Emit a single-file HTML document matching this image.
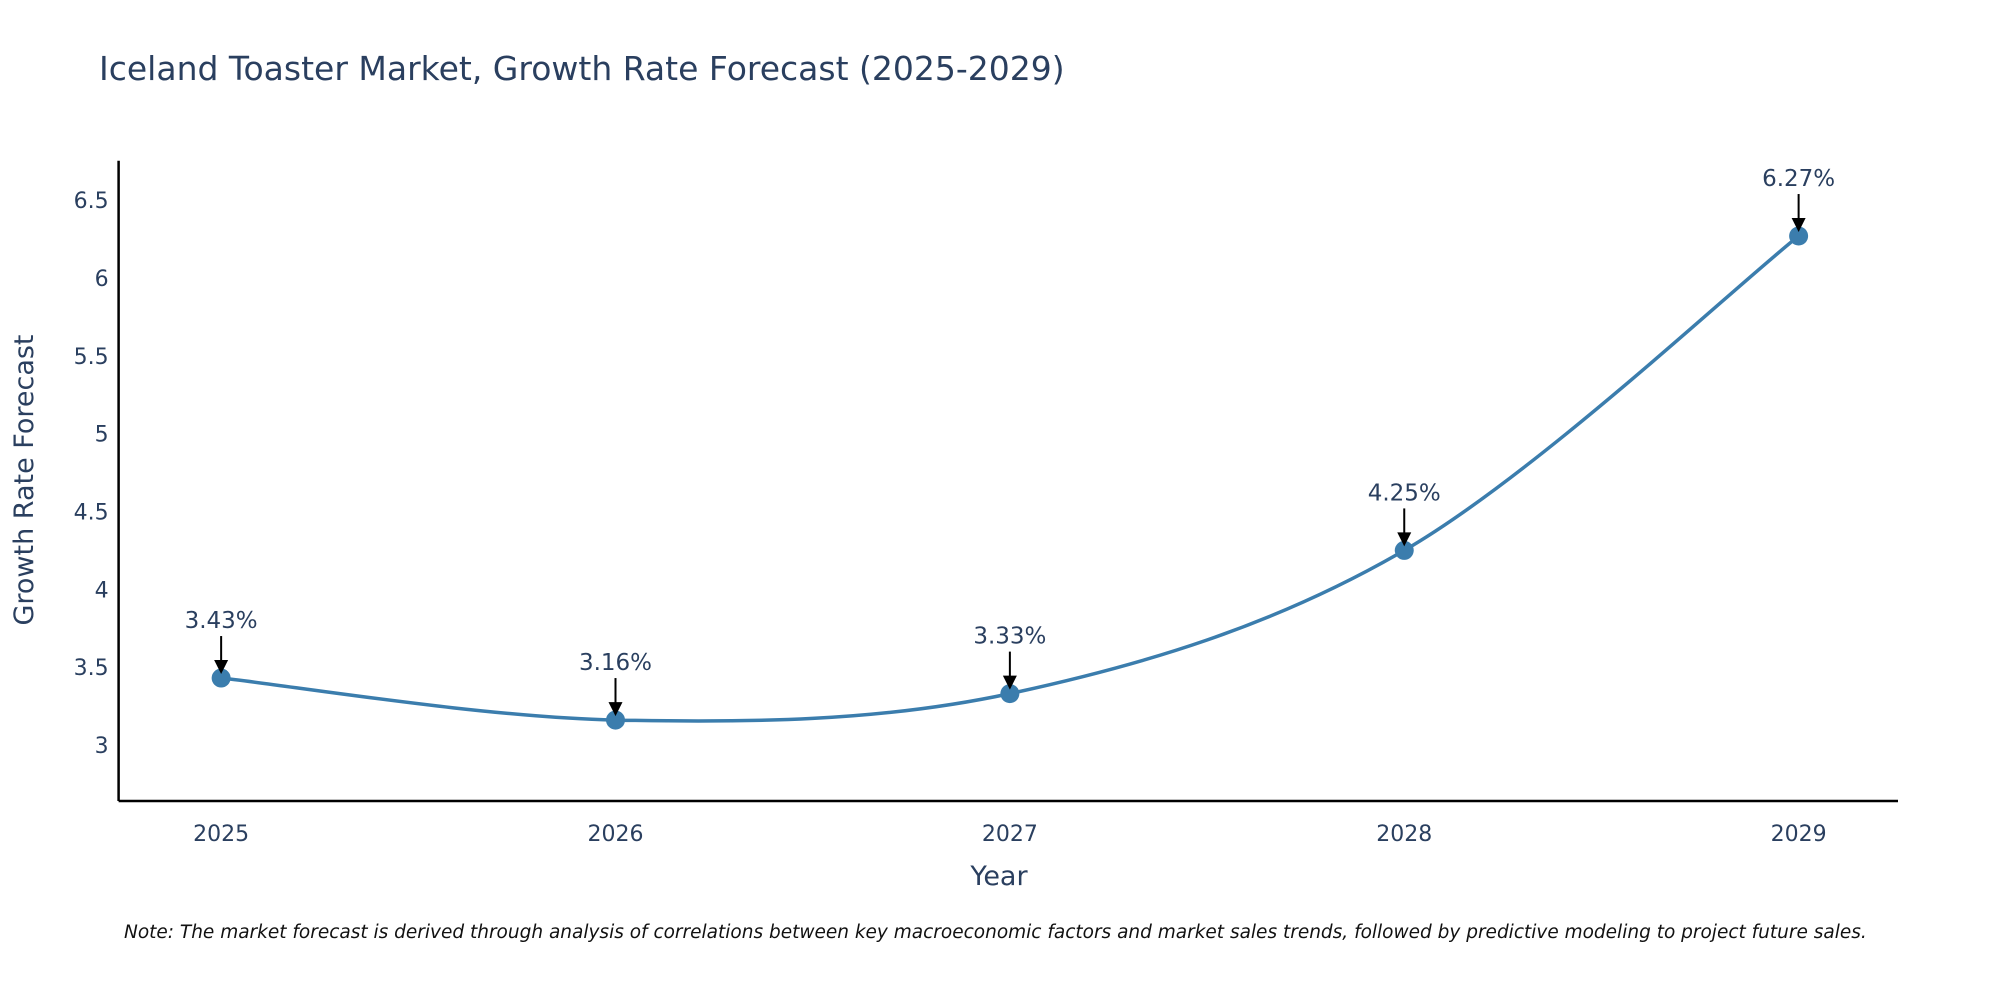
<!DOCTYPE html>
<html><head><meta charset="utf-8"><style>
body{margin:0;background:#fff;}
svg{display:block;font-family:"DejaVu Sans","Liberation Sans",sans-serif;}
</style></head><body>
<svg id="chart" width="2000" height="1000" viewBox="0 0 2000 1000">
<text x="99" y="80" font-size="33" fill="#2a3f5f">Iceland Toaster Market, Growth Rate Forecast (2025-2029)</text>
<g id="plot"></g>
<text x="999" y="885" font-size="27" fill="#2a3f5f" text-anchor="middle">Year</text>
<text transform="translate(33,480) rotate(-90)" font-size="27" fill="#2a3f5f" text-anchor="middle">Growth Rate Forecast</text>
<text x="124" y="938" font-size="18.5" font-style="italic" fill="#111">Note: The market forecast is derived through analysis of correlations between key macroeconomic factors and market sales trends, followed by predictive modeling to project future sales.</text>
</svg>
<script>
const years=[2025,2026,2027,2028,2029];
const values=[3.43,3.16,3.33,4.25,6.27];
const labels=["3.43%","3.16%","3.33%","4.25%","6.27%"];
const yTicks=[3,3.5,4,4.5,5,5.5,6,6.5];
const yTickLabels=["3","3.5","4","4.5","5","5.5","6","6.5"];

const NS="http://www.w3.org/2000/svg";
const L=118.6,R=1898,T=160.7,B=801;
const xMin=2024.74,xMax=2029.252,yMin=2.64,yMax=6.754;
const xs=v=>L+(v-xMin)/(xMax-xMin)*(R-L);
const ys=v=>B-(v-yMin)/(yMax-yMin)*(B-T);
const g=document.getElementById('plot');
function mk(tag,attrs){const e=document.createElementNS(NS,tag);for(const k in attrs)e.setAttribute(k,attrs[k]);g.appendChild(e);return e;}

let ax=mk('line',{x1:L,y1:B,x2:R,y2:B,stroke:'#000','stroke-width':2.5});


let ay=mk('line',{x1:L,y1:T,x2:L,y2:B,stroke:'#000','stroke-width':2.5});



yTicks.forEach((v,i)=>{
 const t=mk('text',{x:L-10,y:ys(v)+8,'font-size':22,fill:'#2a3f5f','text-anchor':'end'});
 t.textContent=yTickLabels[i];
 
 
});
years.forEach(v=>{
 const t=mk('text',{x:xs(v),y:B+40,'font-size':22,fill:'#2a3f5f','text-anchor':'middle'});
 t.textContent=String(v);
 
 
});

const pts=years.map((y,i)=>[xs(y),ys(values[i])]);
let d='M'+pts[0][0]+','+pts[0][1];
const s=1/6;
for(let i=0;i<pts.length-1;i++){
 const p0=pts[Math.max(i-1,0)],p1=pts[i],p2=pts[i+1],p3=pts[Math.min(i+2,pts.length-1)];
 const c1=[p1[0]+(p2[0]-p0[0])*s,p1[1]+(p2[1]-p0[1])*s];
 const c2=[p2[0]-(p3[0]-p1[0])*s,p2[1]-(p3[1]-p1[1])*s];
 d+=' C'+c1+' '+c2+' '+p2;
}
const line=mk('path',{d:d,fill:'none',stroke:'#3b7dad','stroke-width':3.5});



pts.forEach((p,i)=>{
 const c=mk('circle',{cx:p[0],cy:p[1],r:9.5,fill:'#3b7dad'});
 
 
 const a=mk('line',{x1:p[0],y1:p[1]-42,x2:p[0],y2:p[1]-16,stroke:'#000','stroke-width':2});
 
 
 const h=mk('polygon',{points:`${p[0]-7},${p[1]-18} ${p[0]+7},${p[1]-18} ${p[0]},${p[1]-4}`,fill:'#000'});
 
 
 const t=mk('text',{x:p[0],y:p[1]-50,'font-size':23,fill:'#2a3f5f','text-anchor':'middle'});
 t.textContent=labels[i];
 
 
});
</script>
</body></html>
